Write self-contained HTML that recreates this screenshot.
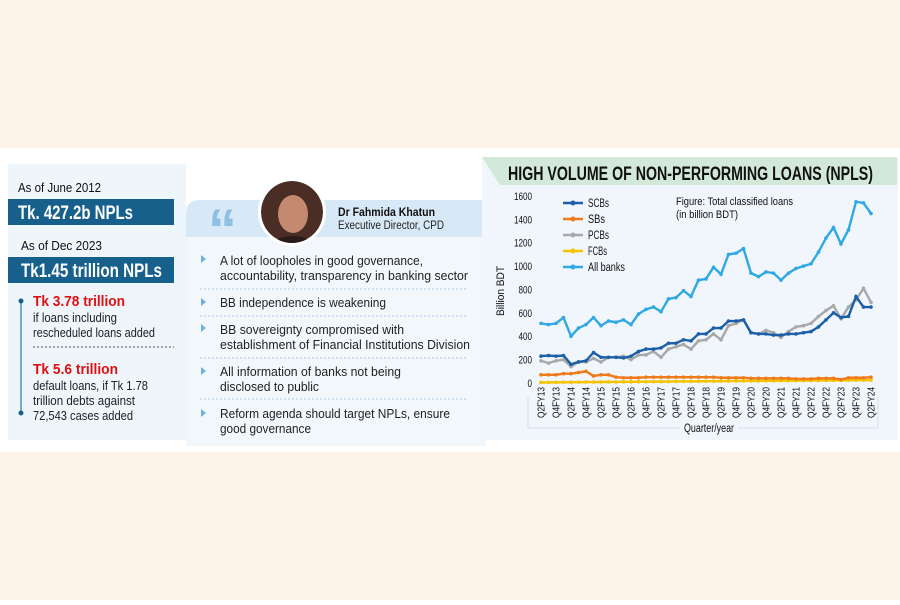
<!DOCTYPE html>
<html><head><meta charset="utf-8"><style>
body{margin:0;width:900px;height:600px;overflow:hidden;background:#fff;font-family:"Liberation Sans",sans-serif}
</style></head><body>
<svg id="s" width="900" height="600" xmlns="http://www.w3.org/2000/svg" font-family="Liberation Sans, sans-serif">
<defs><clipPath id="cp"><circle cx="292" cy="212" r="31"/></clipPath></defs>
<rect x="0" y="0" width="900" height="148" fill="#fdf3e8"/>
<rect x="0" y="452" width="900" height="148" fill="#fdf3e8"/>
<g lengthAdjust="spacingAndGlyphs">
<rect x="8" y="164" width="178" height="276" fill="#eef5fb"/>
<text x="18" y="192" font-size="13" fill="#111" textLength="83" lengthAdjust="spacingAndGlyphs">As of June 2012</text>
<rect x="8" y="199" width="166" height="26" fill="#17608c"/>
<text x="18" y="219" font-size="19" font-weight="bold" fill="#fff" textLength="115" lengthAdjust="spacingAndGlyphs">Tk. 427.2b NPLs</text>
<text x="21" y="250" font-size="13" fill="#111" textLength="81" lengthAdjust="spacingAndGlyphs">As of Dec 2023</text>
<rect x="8" y="257" width="166" height="26" fill="#17608c"/>
<text x="21" y="277" font-size="19" font-weight="bold" fill="#fff" textLength="141" lengthAdjust="spacingAndGlyphs">Tk1.45 trillion NPLs</text>
<line x1="21" y1="301" x2="21" y2="413" stroke="#4a90c0" stroke-width="1.5"/>
<circle cx="21" cy="301" r="2.5" fill="#17608c"/><circle cx="21" cy="413" r="2.5" fill="#17608c"/>
<text x="33" y="306" font-size="15" font-weight="bold" fill="#e01010" textLength="92" lengthAdjust="spacingAndGlyphs">Tk 3.78 trillion</text>
<text x="33" y="322" font-size="12.5" fill="#222" textLength="84" lengthAdjust="spacingAndGlyphs">if loans including</text>
<text x="33" y="337" font-size="12.5" fill="#222" textLength="122" lengthAdjust="spacingAndGlyphs">rescheduled loans added</text>
<line x1="33" y1="347" x2="174" y2="347" stroke="#555" stroke-dasharray="2,2"/>
<text x="33" y="374" font-size="15" font-weight="bold" fill="#e01010" textLength="85" lengthAdjust="spacingAndGlyphs">Tk 5.6 trillion</text>
<text x="33" y="390" font-size="12.5" fill="#222" textLength="115" lengthAdjust="spacingAndGlyphs">default loans, if Tk 1.78</text>
<text x="33" y="405" font-size="12.5" fill="#222" textLength="102" lengthAdjust="spacingAndGlyphs">trillion debts against</text>
<text x="33" y="420" font-size="12.5" fill="#222" textLength="100" lengthAdjust="spacingAndGlyphs">72,543 cases added</text>
<!-- quote panel -->
<rect x="186" y="200" width="300" height="246" rx="14" fill="#eef5fb"/>
<rect x="186" y="237" width="300" height="209" fill="#f2f7fc"/>
<path d="M186,237 V214 Q186,200 200,200 H486 V237 Z" fill="#d7e8f6"/>
<text x="208" y="250" font-size="58" font-weight="bold" fill="#8fbfe3">“</text>
<circle cx="292" cy="212" r="34" fill="#fff"/>
<g clip-path="url(#cp)">
<circle cx="292" cy="212" r="31" fill="#4a2e25"/>
<ellipse cx="293" cy="214" rx="15" ry="19" fill="#c48a6f"/>
<ellipse cx="293" cy="248" rx="22" ry="12" fill="#2a1a18"/>
</g>
<text x="338" y="216" font-size="12" font-weight="bold" fill="#111" textLength="97" lengthAdjust="spacingAndGlyphs">Dr Fahmida Khatun</text>
<text x="338" y="229" font-size="11.5" fill="#222" textLength="106" lengthAdjust="spacingAndGlyphs">Executive Director, CPD</text>
<g font-size="13" fill="#222">
<path d="M201,255 l5,4 l-5,4z" fill="#6fb0dc"/>
<text x="220" y="265" textLength="203" lengthAdjust="spacingAndGlyphs">A lot of loopholes in good governance,</text>
<text x="220" y="280" textLength="248" lengthAdjust="spacingAndGlyphs">accountability, transparency in banking sector</text>
<line x1="200" y1="289" x2="467" y2="289" stroke="#aac8e2" stroke-dasharray="2,2"/>
<path d="M201,298 l5,4 l-5,4z" fill="#6fb0dc"/>
<text x="220" y="307" textLength="166" lengthAdjust="spacingAndGlyphs">BB independence is weakening</text>
<line x1="200" y1="316" x2="467" y2="316" stroke="#aac8e2" stroke-dasharray="2,2"/>
<path d="M201,324 l5,4 l-5,4z" fill="#6fb0dc"/>
<text x="220" y="334" textLength="184" lengthAdjust="spacingAndGlyphs">BB sovereignty compromised with</text>
<text x="220" y="349" textLength="250" lengthAdjust="spacingAndGlyphs">establishment of Financial Institutions Division</text>
<line x1="200" y1="358" x2="467" y2="358" stroke="#aac8e2" stroke-dasharray="2,2"/>
<path d="M201,367 l5,4 l-5,4z" fill="#6fb0dc"/>
<text x="220" y="376" textLength="181" lengthAdjust="spacingAndGlyphs">All information of banks not being</text>
<text x="220" y="391" textLength="99" lengthAdjust="spacingAndGlyphs">disclosed to public</text>
<line x1="200" y1="399" x2="467" y2="399" stroke="#aac8e2" stroke-dasharray="2,2"/>
<path d="M201,409 l5,4 l-5,4z" fill="#6fb0dc"/>
<text x="220" y="418" textLength="230" lengthAdjust="spacingAndGlyphs">Reform agenda should target NPLs, ensure</text>
<text x="220" y="433" textLength="91" lengthAdjust="spacingAndGlyphs">good governance</text>
</g>
<!-- chart panel -->
<rect x="482" y="157" width="416" height="283" fill="#f0f6fb"/>
<path d="M482,157 H897 V185 H500 Z" fill="#d2e8d8"/>
<text x="508" y="180" font-size="19" font-weight="bold" fill="#111" textLength="365" lengthAdjust="spacingAndGlyphs">HIGH VOLUME OF NON-PERFORMING LOANS (NPLS)</text>
<text x="676" y="205" font-size="11" fill="#111" textLength="117" lengthAdjust="spacingAndGlyphs">Figure: Total classified loans</text>
<text x="676" y="218" font-size="11" fill="#111" textLength="62" lengthAdjust="spacingAndGlyphs">(in billion BDT)</text>
<text transform="translate(504,291) rotate(-90)" font-size="11" fill="#111" text-anchor="middle" textLength="50" lengthAdjust="spacingAndGlyphs">Billion BDT</text>
<path d="M528,397 V428 H878 V397" fill="none" stroke="#cfe0ee"/>
<rect x="680" y="420" width="58" height="14" fill="#f0f6fb"/>
<text x="684" y="432" font-size="11.5" fill="#111" textLength="50" lengthAdjust="spacingAndGlyphs">Quarter/year</text>
</g>
<g id="chart"></g>
</svg>
<script>
var g=document.getElementById('chart'),NS='http://www.w3.org/2000/svg';
function el(t,a,txt){var e=document.createElementNS(NS,t);for(var k in a)e.setAttribute(k,a[k]);if(txt!=null)e.textContent=txt;g.appendChild(e);return e;}
var X=function(i){return 541+i*7.5},Y=function(v){return 383-v*0.1169};
for(var v=0;v<=1600;v+=200){var s=String(v);el('text',{x:532-s.length*4.5,y:Y(v)+4,'font-size':11,fill:'#111',textLength:s.length*4.5,lengthAdjust:'spacingAndGlyphs'},s);}
var yrs=['Q2FY13','Q4FY13','Q2FY14','Q4FY14','Q2FY15','Q4FY15','Q2FY16','Q4FY16','Q2FY17','Q4FY17','Q2FY18','Q4FY18','Q2FY19','Q4FY19','Q2FY20','Q4FY20','Q2FY21','Q4FY21','Q2FY22','Q4FY22','Q2FY23','Q4FY23','Q2FY24'];
yrs.forEach(function(s,i){var x=541+i*15+3.5;el('text',{transform:'translate('+x+',418) rotate(-90)','font-size':10.5,fill:'#111',textLength:31,lengthAdjust:'spacingAndGlyphs'},s);});
var D={
all:[510,500,510,560,400,470,500,560,490,530,520,540,500,590,630,650,610,720,730,790,740,880,890,990,930,1100,1110,1150,940,910,950,940,880,940,980,1000,1020,1120,1240,1330,1190,1310,1550,1540,1450],
scb:[230,235,230,235,160,180,190,260,220,220,220,215,230,270,290,290,300,340,340,370,360,420,420,470,470,530,530,540,430,420,420,410,410,420,420,430,440,480,540,600,560,570,740,650,650],
pcb:[190,170,190,200,140,180,180,210,180,220,220,230,200,240,240,270,220,290,310,330,290,360,370,420,370,490,510,540,430,420,450,430,390,440,480,490,510,570,620,660,550,650,710,810,690],
sb:[70,70,70,80,80,90,100,60,70,70,50,45,45,45,50,50,50,50,50,50,50,50,50,50,45,45,45,45,40,40,40,40,40,40,35,35,35,40,40,40,30,45,45,45,50],
fcb:[]};
for(var i=0;i<45;i++)D.fcb.push(5+i*0.45);
var S=[['fcb','#f5c400'],['sb','#ee7a1a'],['pcb','#a8a8a8'],['scb','#1c5fa8'],['all','#2fa8e4']];
S.forEach(function(s){var p=D[s[0]].map(function(v,i){return X(i)+','+Y(v)}).join(' ');
el('polyline',{points:p,fill:'none',stroke:s[1],'stroke-width':2.4});
D[s[0]].forEach(function(v,i){el('circle',{cx:X(i),cy:Y(v),r:1.8,fill:s[1]});});});
var L=[['SCBs','#1c5fa8',21],['SBs','#ee7a1a',17],['PCBs','#a8a8a8',21],['FCBs','#f5c400',19],['All banks','#2fa8e4',37]];
L.forEach(function(l,i){var y=203+i*16;el('line',{x1:563,y1:y,x2:583,y2:y,stroke:l[1],'stroke-width':2.5});el('circle',{cx:573,cy:y,r:2.5,fill:l[1]});
el('text',{x:588,y:y+4,'font-size':11.5,fill:'#111',textLength:l[2],lengthAdjust:'spacingAndGlyphs'},l[0]);});
</script>
</body></html>
